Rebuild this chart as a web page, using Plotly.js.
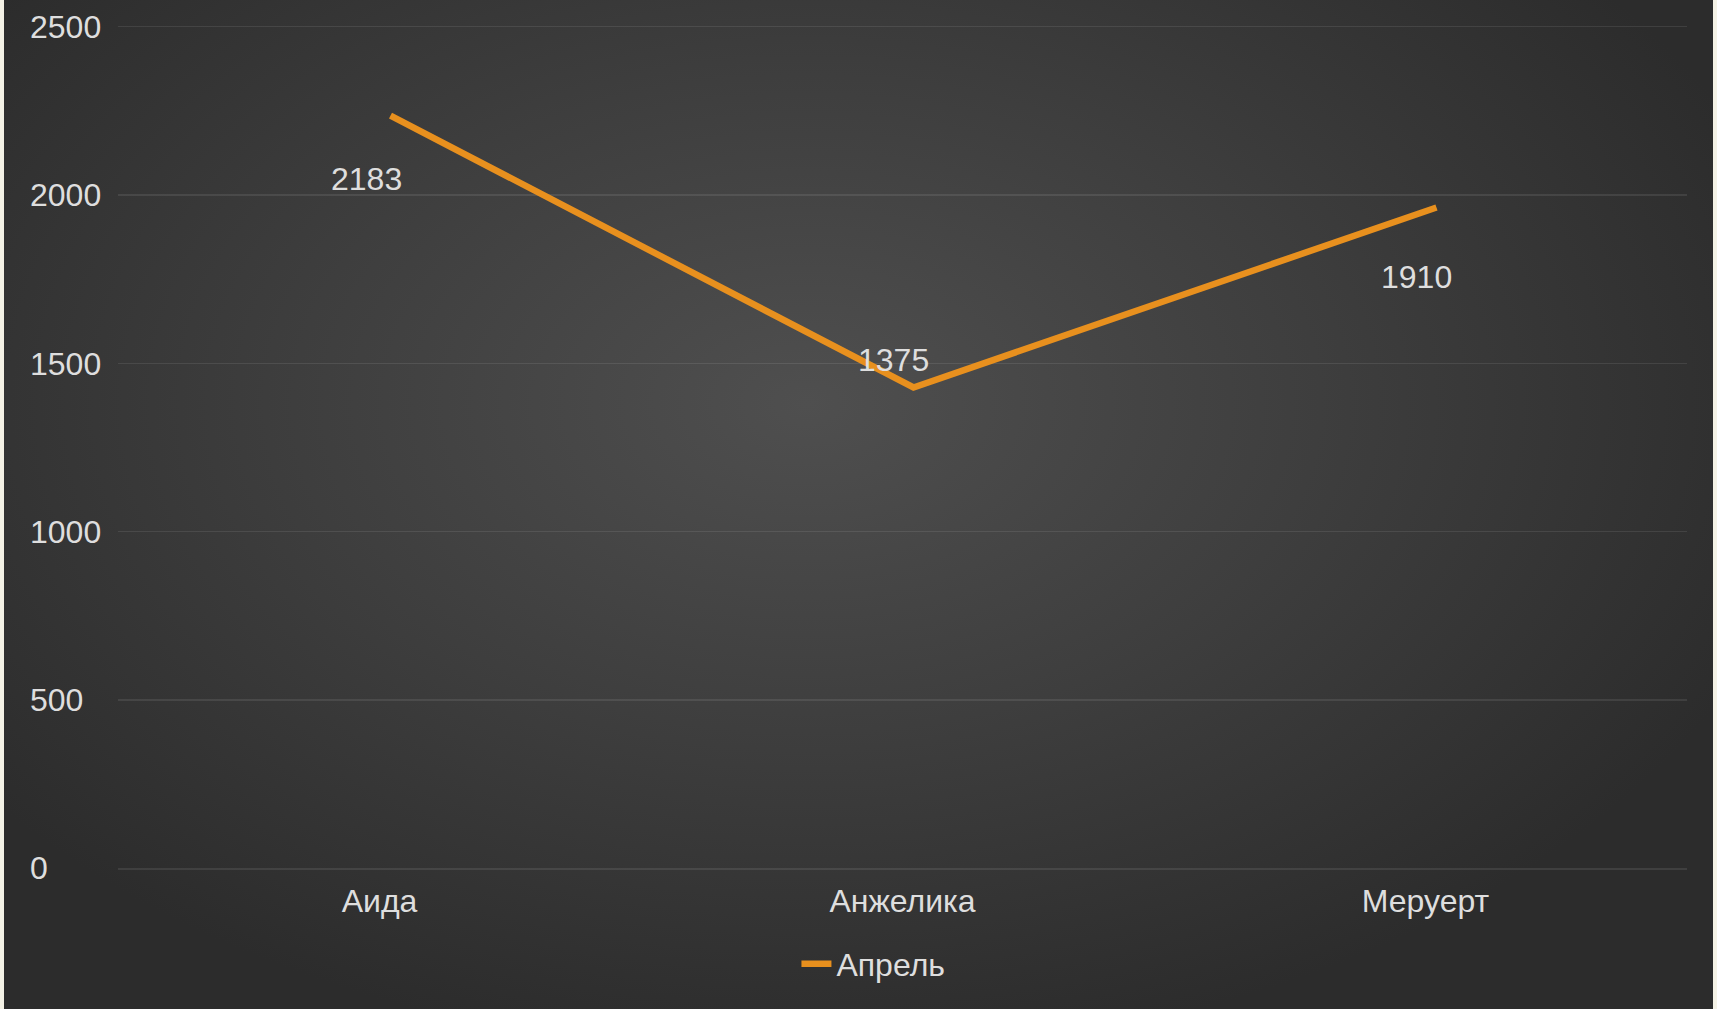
<!DOCTYPE html>
<html>
<head>
<meta charset="utf-8">
<script src="https://cdn.plot.ly/plotly-3.0.1.min.js"></script>
<style>
  html, body { margin: 0; padding: 0; width: 1717px; height: 1009px; background: #f4f2e6; overflow: hidden; }
  #chart {
    position: absolute; left: 4px; top: 0; width: 1709px; height: 1009px;
    background: radial-gradient(ellipse 60% 65% at 47% 40%, #4f4f4f 0%, #3e3e3e 50%, #2c2c2c 100%);
  }
</style>
</head>
<body>
<div id="chart"></div>
<script>
// ---- data ----
const categories = ['Аида', 'Анжелика', 'Меруерт'];
const seriesName = 'Апрель';
const values = [2183, 1375, 1910];
const yTicks = [0, 500, 1000, 1500, 2000, 2500];

// ---- styling / layout ----
const textColor = '#dedede';
const font = 'Liberation Sans, Arial, sans-serif';
const lineColor = '#e8901e';
const gridColor = 'rgba(255,255,255,0.09)';
const fs = 32;

// label placement (pixel shifts relative to each point)
const labelShift = [
  { dx: -13, dy: -45 },
  { dx: -9, dy: 45 },
  { dx: -9, dy: -52 }
];

const lineTrace = {
  x: categories,
  y: values,
  name: seriesName,
  type: 'scatter',
  mode: 'lines',
  xaxis: 'x2',
  yaxis: 'y2',
  line: { color: lineColor, width: 6.5 },
  hoverinfo: 'x+y'
};

// anchor trace on the main axes (carries the categories for ticks and labels)
const anchorTrace = {
  x: categories,
  y: values,
  type: 'scatter',
  mode: 'markers',
  marker: { opacity: 0, size: 1 },
  showlegend: false,
  hoverinfo: 'skip'
};

const annotations = values.map((v, i) => ({
  x: categories[i], y: v, xref: 'x', yref: 'y',
  text: String(v), showarrow: false,
  xshift: labelShift[i].dx, yshift: labelShift[i].dy,
  font: { family: font, size: fs, color: textColor }
}));

const layout = {
  width: 1709, height: 1009,
  paper_bgcolor: 'rgba(0,0,0,0)',
  plot_bgcolor: 'rgba(0,0,0,0)',
  margin: { l: 22, r: 26, t: 27, b: 141 },
  showlegend: true,
  xaxis: {
    type: 'category',
    domain: [0.0554, 1],
    range: [-0.5, 2.5],
    showgrid: false, zeroline: false,
    showline: true, mirror: true, linecolor: gridColor, linewidth: 1.5,
    ticks: '',
    ticklabelstandoff: 4,
    tickfont: { family: font, size: fs, color: textColor },
    fixedrange: true
  },
  yaxis: {
    anchor: 'free', position: 0,
    range: [0, 2500],
    tickvals: yTicks,
    ticktext: yTicks.map(String),
    ticklabelposition: 'inside',
    ticklabeloverflow: 'allow',
    ticklabelstandoff: 0,
    showgrid: true, gridcolor: gridColor, gridwidth: 1.5,
    zeroline: false, showline: false, ticks: '',
    tickfont: { family: font, size: fs, color: textColor },
    fixedrange: true
  },
  xaxis2: {
    type: 'category', overlaying: 'x', anchor: 'y2',
    range: [-0.5 - 0.021, 2.5 - 0.021],
    visible: false, fixedrange: true
  },
  yaxis2: {
    overlaying: 'y', anchor: 'x2',
    range: [-53.5, 2500 - 53.5],
    visible: false, fixedrange: true
  },
  legend: {
    orientation: 'h',
    x: 0.5102, xanchor: 'center',
    y: -0.114, yanchor: 'middle',
    bgcolor: 'rgba(0,0,0,0)',
    font: { family: font, size: fs, color: textColor }
  },
  annotations: annotations
};

Plotly.newPlot('chart', [anchorTrace, lineTrace], layout, { displayModeBar: false, staticPlot: true });
</script>
</body>
</html>
